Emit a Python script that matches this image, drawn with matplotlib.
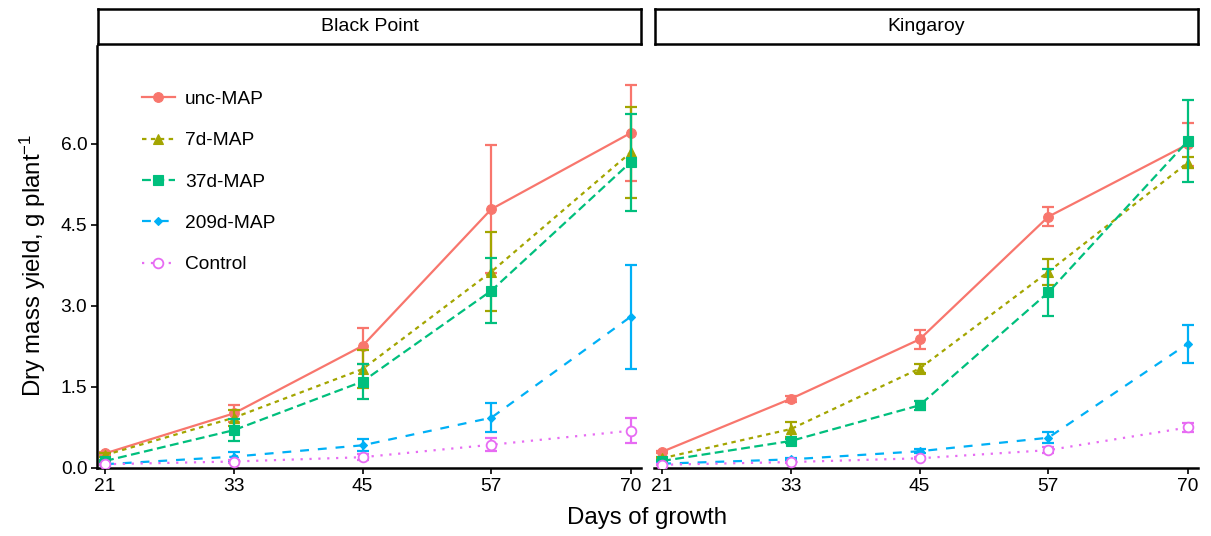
import matplotlib
matplotlib.use("Agg")
import matplotlib.pyplot as plt
import numpy as np

plt.rcParams['font.family'] = ['Liberation Sans', 'DejaVu Sans']
plt.rcParams['mathtext.fontset'] = 'custom'
plt.rcParams['mathtext.rm'] = 'Liberation Sans'
plt.rcParams['mathtext.it'] = 'Liberation Sans:italic'

# ---- data ----
days = [21, 33, 45, 57, 70]
sites = ["Black Point", "Kingaroy"]
treatments = ["unc-MAP", "7d-MAP", "37d-MAP", "209d-MAP", "Control"]

bp_unc = [0.27, 1.01, 2.26, 4.79, 6.20]
bp_unc_se = [0.03, 0.15, 0.34, 1.19, 0.88]
bp_7d = [0.24, 0.93, 1.83, 3.63, 5.84]
bp_7d_se = [0.03, 0.15, 0.35, 0.73, 0.84]
bp_37d = [0.13, 0.70, 1.60, 3.28, 5.66]
bp_37d_se = [0.02, 0.20, 0.33, 0.60, 0.90]
bp_209d = [0.07, 0.21, 0.42, 0.93, 2.80]
bp_209d_se = [0.01, 0.08, 0.11, 0.27, 0.96]
bp_ctrl = [0.07, 0.12, 0.20, 0.43, 0.69]
bp_ctrl_se = [0.01, 0.03, 0.06, 0.12, 0.23]

kg_unc = [0.30, 1.28, 2.38, 4.65, 5.99]
kg_unc_se = [0.02, 0.05, 0.18, 0.18, 0.40]
kg_7d = [0.18, 0.72, 1.84, 3.63, 5.65]
kg_7d_se = [0.02, 0.14, 0.09, 0.24, 0.10]
kg_37d = [0.13, 0.50, 1.16, 3.25, 6.05]
kg_37d_se = [0.01, 0.03, 0.08, 0.44, 0.76]
kg_209d = [0.08, 0.16, 0.31, 0.56, 2.30]
kg_209d_se = [0.01, 0.02, 0.04, 0.10, 0.35]
kg_ctrl = [0.06, 0.11, 0.18, 0.33, 0.75]
kg_ctrl_se = [0.01, 0.01, 0.02, 0.05, 0.08]

yticks = [0.0, 1.5, 3.0, 4.5, 6.0]
ytick_labels = ["0.0", "1.5", "3.0", "4.5", "6.0"]

site_data = {
    "Black Point": [(bp_unc, bp_unc_se), (bp_7d, bp_7d_se), (bp_37d, bp_37d_se),
                    (bp_209d, bp_209d_se), (bp_ctrl, bp_ctrl_se)],
    "Kingaroy": [(kg_unc, kg_unc_se), (kg_7d, kg_7d_se), (kg_37d, kg_37d_se),
                 (kg_209d, kg_209d_se), (kg_ctrl, kg_ctrl_se)],
}

# ---- styles ----
colors = ["#F8766D", "#A3A500", "#00BF7D", "#00B0F6", "#E76BF3"]
lstyles = ["-", (0, (2, 2)), (0, (4, 2)), (0, (4, 4)), (0, (1, 3))]
markers = ["o", "^", "s", "D", "o"]
msizes = [7, 7.5, 6.5, 4.5, 7]
filled = [True, True, True, True, False]

W, H = 1211, 536
fig = plt.figure(figsize=(W / 100, H / 100), dpi=100)

def fx(px):
    return px / W

def fy(py):
    return 1 - py / H

ax_left_px = [97, 654]
ax_w_px = 544
ax_top_px, ax_bot_px = 46, 468
strip_top_px, strip_bot_px = 9, 44

axes = []
for i, site in enumerate(sites):
    x0 = ax_left_px[i]
    ax = fig.add_axes([fx(x0), fy(ax_bot_px), ax_w_px / W, (ax_bot_px - ax_top_px) / H])
    axes.append(ax)
    for j, (vals, se) in enumerate(site_data[site]):
        c = colors[j]
        ax.errorbar(days, vals, yerr=se, fmt='none', ecolor=c, elinewidth=1.6,
                    capsize=4.5, capthick=1.6, zorder=2 + j)
        ax.plot(days, vals, color=c, linestyle=lstyles[j], linewidth=1.6,
                marker=markers[j], markersize=msizes[j],
                markerfacecolor=c if filled[j] else 'white',
                markeredgecolor=c, markeredgewidth=1.3 if not filled[j] else 0.8,
                label=treatments[j], zorder=2 + j)
    ax.set_xlim(20.25, 70.96)
    ax.set_ylim(0, 7.81)
    ax.set_xticks(days)
    ax.set_xticklabels([str(d) for d in days])
    ax.set_yticks(yticks)
    for s in ['top', 'right']:
        ax.spines[s].set_visible(False)
    ax.spines['bottom'].set_linewidth(1.8)
    ax.spines['left'].set_linewidth(1.8)
    ax.tick_params(axis='both', labelsize=13.8, length=4, width=1.2, colors='black', pad=3)
    if i == 0:
        ax.set_yticklabels(ytick_labels)
    else:
        ax.spines['left'].set_visible(False)
        ax.tick_params(axis='y', left=False, labelleft=False)
    ax.set_facecolor('none')

    # strip
    sax = fig.add_axes([fx(x0 + 1), fy(strip_bot_px), (ax_w_px - 1) / W,
                        (strip_bot_px - strip_top_px) / H])
    sax.set_xticks([])
    sax.set_yticks([])
    for s in sax.spines.values():
        s.set_linewidth(1.8)
    sax.text(0.5, 0.5, site, ha='center', va='center', fontsize=14,
             transform=sax.transAxes)

leg = axes[0].legend(loc='upper left', bbox_to_anchor=(fx(142), fy(90.5)),
                     bbox_transform=fig.transFigure, frameon=False, fontsize=13.8,
                     borderpad=0, borderaxespad=0, handlelength=1.7,
                     handletextpad=0.55, labelspacing=1.25)

fig.text(fx(647), fy(518), "Days of growth", ha='center', va='center', fontsize=17.3)
fig.text(fx(33), fy(265), r"Dry mass yield, g plant$^{-1}$", ha='center', va='center',
         rotation=90, fontsize=17.3)

fig.savefig("out.png", dpi=100)
